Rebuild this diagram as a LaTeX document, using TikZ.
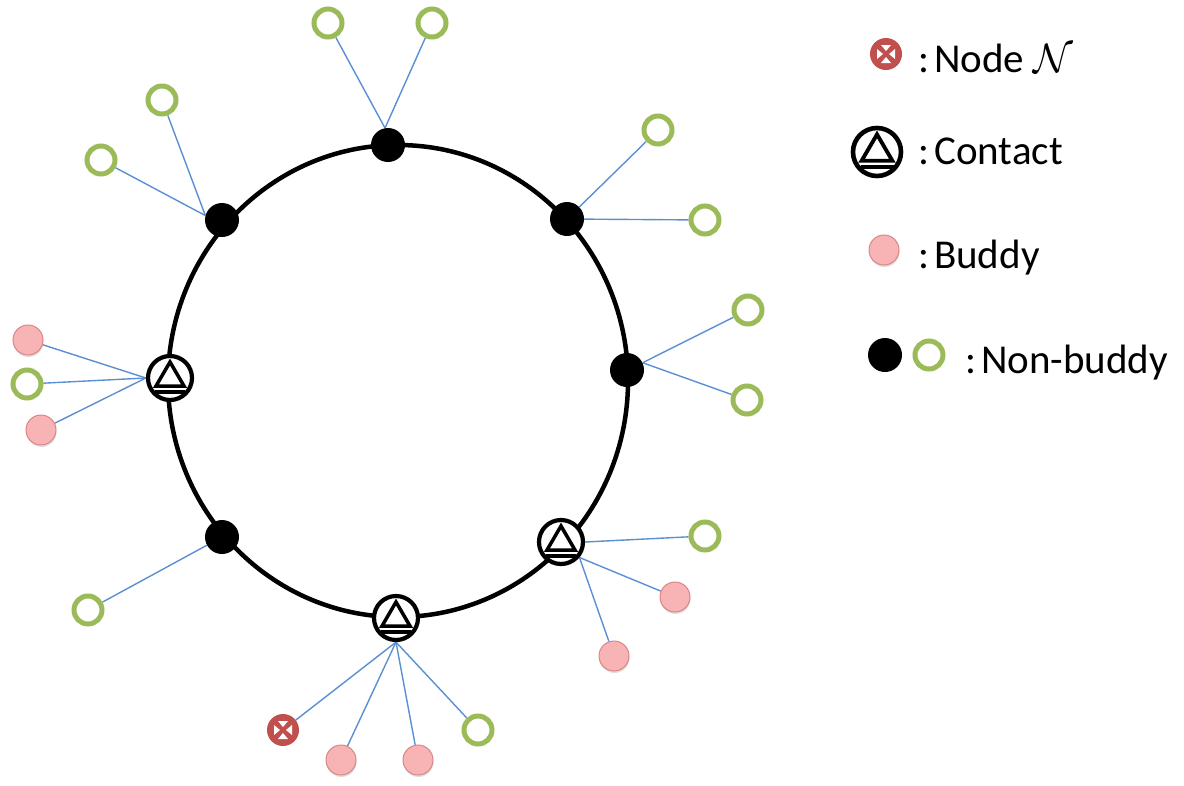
\documentclass[tikz,border=0pt]{standalone}
\usepackage{fix-cm}
\usepackage{fontspec}
\setmainfont{Carlito}
\usetikzlibrary{shadows,backgrounds}
\definecolor{lgreen}{HTML}{9BBB59}
\definecolor{lpink}{HTML}{F8B4B4}
\definecolor{lpinkd}{HTML}{D98686}
\definecolor{lred}{HTML}{C0504D}
\definecolor{lblue}{HTML}{5B8FD3}
\newcommand{\contactmark}[2]{% node name, scale
  \draw[line width=#2*3.5pt,line join=miter]
    ([shift={(0pt,#2*16pt)}]#1.center)
    -- ++(#2*14pt,-#2*24pt) -- ++(-#2*28pt,0pt) -- cycle;
  \draw[line width=#2*3.8pt]
    ([shift={(-#2*15pt,-#2*14pt)}]#1.center)
    -- ++(#2*30pt,0pt);}
\newcommand{\nodemark}{%
  \fill[white] ([shift={(-5pt,9pt)}]path picture bounding box.center) -- ++(10pt,0pt) -- ++(-5pt,-6pt) -- cycle;
  \fill[white] ([shift={(-5pt,-9pt)}]path picture bounding box.center) -- ++(10pt,0pt) -- ++(-5pt,6pt) -- cycle;
  \fill[white] ([shift={(9pt,-5pt)}]path picture bounding box.center) -- ++(0pt,10pt) -- ++(-6pt,-5pt) -- cycle;
  \fill[white] ([shift={(-9pt,-5pt)}]path picture bounding box.center) -- ++(0pt,10pt) -- ++(6pt,-5pt) -- cycle;}
\tikzset{
  nb/.style={circle,fill=black,minimum size=34pt,inner sep=0pt},
  gr/.style={circle,draw=lgreen,line width=5pt,fill=white,minimum size=28pt,inner sep=0pt},
  bd/.style={circle,fill=lpink,draw=lpinkd,line width=1pt,minimum size=30pt,inner sep=0pt,
     drop shadow={shadow xshift=0.5pt,shadow yshift=-2pt,opacity=0.25}},
  ct/.style={circle,draw=black,line width=4.2pt,fill=white,minimum size=44pt,inner sep=0pt},
  ctbig/.style={circle,draw=black,line width=4.6pt,fill=white,minimum size=48pt,inner sep=0pt},
  nn/.style={circle,fill=lred,minimum size=32pt,inner sep=0pt,path picture={\nodemark}},
  link/.style={draw=lblue,line width=1.4pt},
  ring/.style={line width=4.5pt},
  legtext/.style={anchor=base west,inner sep=0pt,font=\fontsize{41}{48}\selectfont}
}
\begin{document}
\begin{tikzpicture}[x=1pt,y=-1pt]
\useasboundingbox (0,0) rectangle (1184,785);
% ring
\draw[ring] (398,381) ellipse [x radius=230pt, y radius=236pt];
% hubs on the ring
\node[nb] (n1) at (388,145) {};
\node[nb] (n2) at (222,220) {};
\node[nb] (n3) at (567,219) {};
\node[nb] (n4) at (627,370) {};
\node[nb] (n5) at (222,537) {};
\node[ct] (c1) at (170,378) {};
\node[ct] (c2) at (561,542) {};
\node[ct] (c3) at (396,618) {};
\contactmark{c1}{1}
\contactmark{c2}{1}
\contactmark{c3}{1}
% leaves
\node[gr] (g1) at (328,23) {};
\node[gr] (g2) at (432,23) {};
\node[gr] (g3) at (162,100) {};
\node[gr] (g4) at (101,160) {};
\node[gr] (g5) at (658,130) {};
\node[gr] (g6) at (705,220) {};
\node[gr] (g7) at (748,310) {};
\node[gr] (g8) at (747,400) {};
\node[bd] (p1) at (28,340) {};
\node[gr] (g9) at (27,384) {};
\node[bd] (p2) at (41,430) {};
\node[gr] (g10) at (88,610) {};
\node[gr] (g11) at (705,536) {};
\node[bd] (p3) at (675,597) {};
\node[bd] (p4) at (614,656) {};
\node[nn] (x1) at (283,730) {};
\node[bd] (p5) at (341,760) {};
\node[bd] (p6) at (418,760) {};
\node[gr] (g12) at (478,730) {};
% connectors
\begin{scope}[on background layer]
\draw[link] (g1) -- (n1.100);
\draw[link] (g2) -- (n1.100);
\draw[link] (g3) -- (n2.165);
\draw[link] (g4) -- (n2.165);
\draw[link] (g5) -- (n3);
\draw[link] (g6) -- (n3);
\draw[link] (g7) -- (n4.25);
\draw[link] (g8) -- (n4.25);
\draw[link] (p1) -- (c1.west);
\draw[link] (g9) -- (c1.west);
\draw[link] (p2) -- (c1.west);
\draw[link] (g10) -- (n5);
\draw[link] (g11) -- (c2.0);
\draw[link] (p3) -- (c2.-40);
\draw[link] (p4) -- (c2.-40);
\draw[link] (x1) -- (c3.south);
\draw[link] (p5) -- (c3.south);
\draw[link] (p6) -- (c3.south);
\draw[link] (g12) -- (c3.south);
\end{scope}
% legend
\node[nn] (lN) at (886,54) {};
\node[legtext] (tN) at (918,72) {:\kern5pt Node $\mathcal{N}$};
\node[ctbig] (lC) at (877,152) {};
\contactmark{lC}{1.1}
\node[legtext] (tC) at (918,164) {:\kern5pt Contact};
\node[bd] (lB) at (884,250) {};
\node[legtext] (tB) at (918,268) {:\kern5pt Buddy};
\node[nb] (lK) at (885,355) {};
\node[gr] (lG) at (929,355) {};
\node[legtext] (tK) at (965,373) {:\kern5pt Non-buddy};
\end{tikzpicture}
\end{document}
